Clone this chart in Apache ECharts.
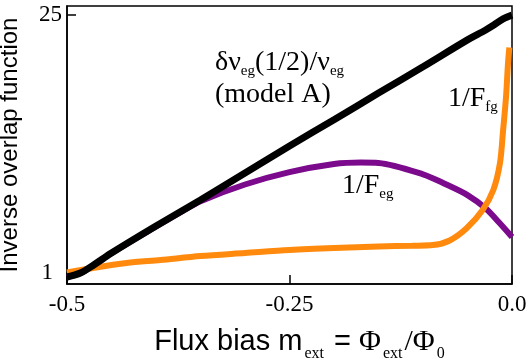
<!DOCTYPE html>
<html>
<head>
<meta charset="utf-8">
<script src="https://cdn.jsdelivr.net/npm/echarts@6/dist/echarts.min.js"></script>
<style>html,body{margin:0;padding:0;background:#fff;}#c{width:526px;height:360px;}</style>
</head>
<body>
<div id="c"></div>
<script>
// ---- data ----
const xTickLabels = ['-0.5', '-0.25', '0.0'];
const yTickValues = [1, 25];

// delta nu_eg(1/2)/nu_eg (model A)
const blackM = [-0.5, -0.485, -0.47, -0.45, -0.4, -0.35, -0.3, -0.25, -0.2, -0.15, -0.1, -0.05, -0.03, -0.02, -0.01, 0];
const blackV = [0.65, 1.02, 1.77, 2.88, 5.39, 7.81, 10.32, 12.83, 15.28, 17.75, 20.2, 22.7, 23.6, 24.1, 24.65, 25.0];

// 1/F_eg
const purpleM = [-0.5, -0.485, -0.47, -0.45, -0.4, -0.37, -0.35, -0.3, -0.25, -0.2, -0.17, -0.15, -0.1, -0.075, -0.05, -0.03, -0.015, 0];
const purpleV = [0.65, 1.02, 1.77, 2.88, 5.35, 6.8, 7.7, 9.25, 10.4, 11.15, 11.29, 11.25, 10.2, 9.3, 8.27, 7.06, 5.76, 4.37];

// 1/F_fg
const orangeM = [-0.5, -0.471, -0.433, -0.395, -0.35, -0.3, -0.25, -0.2, -0.15, -0.112, -0.089, -0.07, -0.051, -0.033, -0.021, -0.0135, -0.01, -0.0067, -0.0045, -0.003];
const orangeV = [1.07, 1.49, 1.95, 2.23, 2.6, 2.88, 3.16, 3.35, 3.49, 3.56, 3.62, 4.05, 5.18, 6.88, 8.74, 11.25, 14.3, 17.4, 20.5, 22.0];

const zip = (a, b) => a.map((v, i) => [v, b[i]]);

const SERIF = 'Liberation Serif';
const SANS = 'Liberation Sans';

const chart = echarts.init(document.getElementById('c'), null, {renderer: 'canvas'});
chart.setOption({
  animation: false,
  backgroundColor: '#fff',
  grid: {left: 67, right: 14, top: 6, bottom: 76, outerBoundsMode: 'none', containLabel: false,
         show: true, borderColor: '#000', borderWidth: 1.5, backgroundColor: 'transparent'},
  xAxis: {
    type: 'value', min: -0.5, max: 0, interval: 0.25,
    axisLine: {show: true, onZero: false, lineStyle: {color: '#000', width: 1.5}},
    axisTick: {show: true, inside: true, length: 9, lineStyle: {color: '#000', width: 1.5}},
    splitLine: {show: false},
    axisLabel: {
      color: '#000', fontFamily: SERIF, fontSize: 23, margin: 9,
      formatter: v => xTickLabels[Math.round((v + 0.5) / 0.25)]
    },
    name: '{a|Flux bias m}{s|ext}{a| = }{f|Φ}{s|ext}{f|/Φ}{s|0}',
    nameLocation: 'middle', nameGap: 43,
    nameTextStyle: {
      color: '#000',
      padding: [0, 0, 0, 22],
      rich: {
        a: {fontFamily: SANS, fontSize: 29, lineHeight: 29, verticalAlign: 'top', color: '#000'},
        f: {fontFamily: SERIF, fontSize: 30, lineHeight: 29, verticalAlign: 'top', color: '#000'},
        s: {fontFamily: SERIF, fontSize: 16, lineHeight: 16, verticalAlign: 'top', padding: [19, 2, 0, 2], color: '#000'}
      }
    }
  },
  yAxis: {
    type: 'value', min: 0, max: 25.85,
    axisLine: {show: true, onZero: false, lineStyle: {color: '#000', width: 1.5}},
    axisTick: {show: true, inside: true, length: 9, customValues: yTickValues, lineStyle: {color: '#000', width: 1.5}},
    splitLine: {show: false},
    axisLabel: {
      color: '#000', fontFamily: SERIF, fontSize: 23, margin: 5,
      customValues: yTickValues,
      formatter: v => v === 1 ? '{o|1}' : String(v),
      rich: {o: {fontFamily: SERIF, fontSize: 23, color: '#000', padding: [0, 9, 0, 0]}}
    },
    name: 'Inverse overlap function',
    nameLocation: 'middle', nameGap: 45, nameRotate: 90,
    nameTextStyle: {color: '#000', fontFamily: SANS, fontSize: 24}
  },
  series: [
    {type: 'line', name: '1/F_eg', data: zip(purpleM, purpleV), showSymbol: false, smooth: 0.3, z: 2,
     lineStyle: {color: '#7b0a8c', width: 6}},
    {type: 'line', name: '1/F_fg', data: zip(orangeM, orangeV), showSymbol: false, smooth: 0.3, z: 3,
     lineStyle: {color: '#ff8a0d', width: 6}},
    {type: 'line', name: 'model A', data: zip(blackM, blackV), showSymbol: false, smooth: 0.3, z: 4,
     lineStyle: {color: '#000', width: 7}}
  ],
  graphic: [
    {type: 'text', left: 215, top: 49, z: 10, style: {
      text: '{m|δν}{s|eg}{m|(1/2)/ν}{s|eg}',
      rich: {
        m: {fontFamily: SERIF, fontSize: 28, lineHeight: 28, verticalAlign: 'top', fill: '#000'},
        s: {fontFamily: SERIF, fontSize: 15, lineHeight: 15, verticalAlign: 'top', padding: [15, 0, 0, 0], fill: '#000'}
      }}},
    {type: 'text', left: 215, top: 81, z: 10, style: {
      text: '(model A)', font: '28px "Liberation Serif"', fill: '#000'}},
    {type: 'text', left: 448, top: 85, z: 10, style: {
      text: '{m|1/F}{s|fg}',
      rich: {
        m: {fontFamily: SERIF, fontSize: 28, lineHeight: 28, verticalAlign: 'top', fill: '#000'},
        s: {fontFamily: SERIF, fontSize: 15, lineHeight: 15, verticalAlign: 'top', padding: [15, 0, 0, 0], fill: '#000'}
      }}},
    {type: 'text', left: 342, top: 172, z: 10, style: {
      text: '{m|1/F}{s|eg}',
      rich: {
        m: {fontFamily: SERIF, fontSize: 28, lineHeight: 28, verticalAlign: 'top', fill: '#000'},
        s: {fontFamily: SERIF, fontSize: 15, lineHeight: 15, verticalAlign: 'top', padding: [15, 0, 0, 0], fill: '#000'}
      }}}
  ]
});
</script>
</body>
</html>
